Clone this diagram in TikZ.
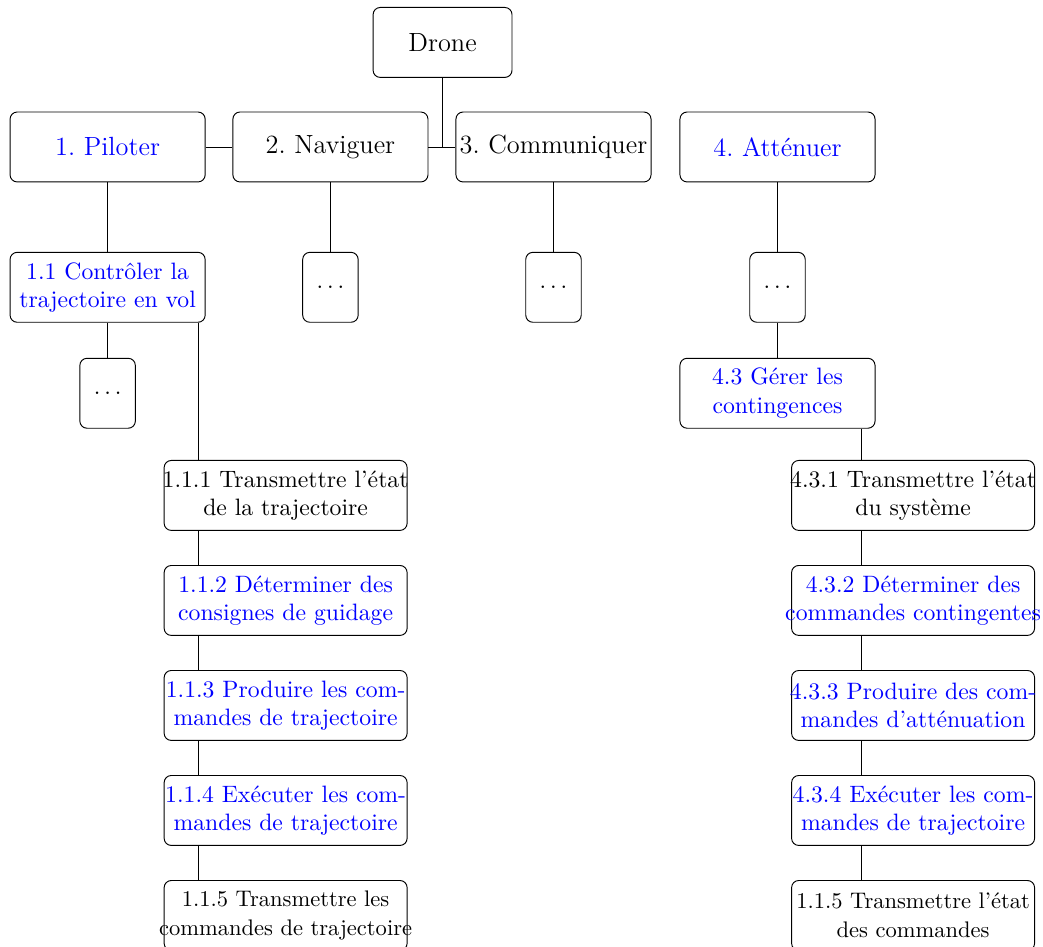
\documentclass[tikz,border=0pt]{standalone}
\usepackage{tikz}
\usetikzlibrary{positioning}
\frenchspacing

\begin{document}
\begin{tikzpicture}[node distance=14.4pt,
    boite/.style={draw=black,rounded corners=3pt,minimum height=29.5pt,inner ysep=0pt,align=center},
    fonction/.style={boite,minimum width=82.3pt,inner xsep=0pt,font=\fontsize{11.1}{13.5}\selectfont},
    sousfonction/.style={boite,text width=80pt,inner xsep=1.15pt},
    etape/.style={boite,text width=108pt,inner xsep=-2.75pt},
    suite/.style={boite,minimum width=23.4pt},
    bleu/.style={text=blue}]
    \useasboundingbox (-186.7pt,17.9pt) rectangle (253.3pt,-381.6pt);
    \node[fonction,minimum width=58.6pt] (drone) at (0,0) {Drone};
    \node[fonction,bleu] (f1) at (-141.3pt,-44.1pt) {1. Piloter};
    \node[fonction] (f2) at (-47.3pt,-44.1pt) {2. Naviguer};
    \node[fonction] (f3) at (46.8pt,-44.1pt) {3. Communiquer};
    \node[fonction,bleu] (f4) at (141.3pt,-44.1pt) {4. Atténuer};
    % sous-fonctions
    \node[sousfonction,bleu,below=29.3pt of f1] (s11) {1.1 Contrôler la\\trajectoire en vol};
    \node[suite,below=29.3pt of f2] (s2) {$\dots$};
    \node[suite,below=29.3pt of f3] (s3) {$\dots$};
    \node[suite,below=29.3pt of f4] (s4) {$\dots$};
    \node[suite,below=14.8pt of s11] (s1x) {$\dots$};
    \node[sousfonction,bleu,below=14.8pt of s4] (s43) {4.3 Gérer les\\contingences};
    % chaine 1.1
    \node[etape] (e111) at (-66.2pt,-191.1pt) {1.1.1 Transmettre l’état\\de la trajectoire};
    \node[etape,bleu,below=of e111] (e112) {1.1.2 Déterminer des\hspace*{0.33em}\\consignes de guidage};
    \node[etape,bleu,below=of e112] (e113) {1.1.3 Produire les com-\\mandes de trajectoire};
    \node[etape,bleu,below=of e113] (e114) {1.1.4 Exécuter les com-\\mandes de trajectoire};
    \node[etape,below=of e114,font=\fontsize{9.5}{12}\selectfont] (e115) {1.1.5 Transmettre les\\commandes de trajectoire};
    % chaine 4.3
    \node[etape] (e431) at (198.5pt,-191.1pt) {4.3.1 Transmettre l’état\\du système};
    \node[etape,bleu,below=of e431] (e432) {4.3.2 Déterminer des\hspace*{0.33em}\\commandes contingentes};
    \node[etape,bleu,below=of e432] (e433) {4.3.3 Produire des com-\\mandes d’atténuation};
    \node[etape,bleu,below=of e433] (e434) {4.3.4 Exécuter les com-\\mandes de trajectoire};
    \node[etape,below=of e434,font=\fontsize{9.5}{12}\selectfont] (e435) {1.1.5 Transmettre l’état\\des commandes};
    % liens
    \draw (drone) -- (drone |- f2.east);
    \draw (f1) -- (f2);
    \draw (f2) -- (f3);
    \foreach \a/\b in {f1/s11,f2/s2,f3/s3,f4/s4,s11/s1x,s4/s43}
        \draw (\a) -- (\b);
    \coordinate (axeg) at ([xshift=-3pt]s11.south east);
    \coordinate (axed) at ([xshift=-5.9pt]s43.south east);
    \draw (axeg) -- (axeg |- e111.north);
    \draw (axed) -- (axed |- e431.north);
    \foreach \i/\j in {1/2,2/3,3/4,4/5} {
        \draw (axeg |- e11\i.south) -- (axeg |- e11\j.north);
        \draw (axed |- e43\i.south) -- (axed |- e43\j.north);
    }
\end{tikzpicture}
\end{document}
